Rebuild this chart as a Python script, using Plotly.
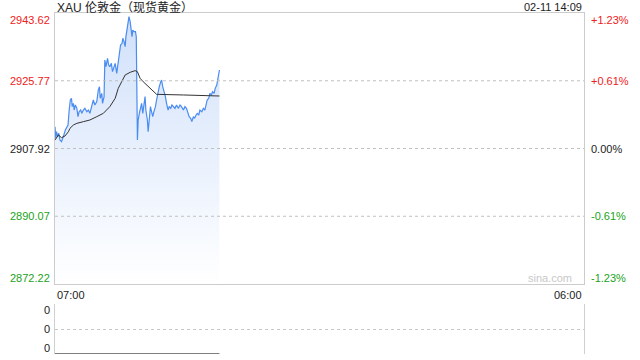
import pandas as pd
import plotly.graph_objects as go

DATE = "2025-02-11 "

# ---- price line (time, price) ----
times = ["07:00","07:02","07:04","07:07","07:10","07:13","07:17","07:20","07:23","07:27",
         "07:30","07:34","07:37","07:40","07:43","07:45","07:48","07:50","07:53","07:57",
         "08:00","08:03","08:07","08:10","08:14","08:18","08:23","08:27","08:31","08:36",
         "08:40","08:44","08:49","08:53","08:56","08:58","09:02","09:04","09:08","09:10",
         "09:13","09:17","09:20","09:23","09:27","09:30","09:34","09:37","09:41","09:44",
         "09:48","09:51","09:55","09:57","10:00","10:03","10:05","10:08","10:10","10:13",
         "10:16","10:18","10:21","10:23","10:26","10:30","10:32","10:35","10:37","10:40",
         "10:43","10:46","10:49","10:52","10:55","10:57","11:01","11:03","11:06","11:09",
         "11:11","11:15","11:18","11:22","11:25","11:29","11:32","11:36","11:38","11:41",
         "11:44","11:48","11:51","11:55","11:58","12:02","12:05","12:09","12:13","12:17",
         "12:22","12:26","12:30","12:35","12:39","12:43","12:47","12:50","12:54","12:57",
         "13:01","13:04","13:08","13:11","13:15","13:18","13:23","13:27","13:31","13:34",
         "13:37","13:41","13:44","13:48","13:51","13:55","13:58","14:02","14:04","14:07",
         "14:09"]
prices = [2913.67,2910.60,2912.35,2911.04,2911.92,2910.16,2909.72,2911.04,2911.48,2912.79,
          2913.23,2914.11,2918.06,2920.70,2921.14,2918.94,2919.82,2918.06,2919.38,2918.50,
          2916.31,2917.62,2918.06,2917.18,2918.06,2918.50,2917.62,2918.06,2917.18,2918.94,
          2920.70,2919.38,2920.26,2923.33,2924.21,2921.14,2922.45,2919.82,2921.58,2931.24,
          2929.48,2931.68,2929.92,2929.48,2930.36,2928.16,2929.48,2930.36,2927.72,2930.36,
          2933.87,2935.19,2935.63,2936.95,2936.07,2934.75,2937.38,2939.58,2940.90,2942.65,
          2941.34,2939.14,2937.38,2939.14,2938.70,2938.70,2937.38,2910.16,2915.43,2917.18,
          2918.94,2919.82,2917.18,2918.94,2921.58,2918.06,2915.43,2912.35,2916.31,2918.94,
          2918.06,2916.31,2917.62,2918.94,2920.70,2922.89,2924.21,2925.53,2925.97,2924.21,
          2923.33,2921.58,2919.82,2918.06,2918.94,2918.50,2919.38,2918.94,2918.50,2919.38,
          2918.50,2919.38,2918.94,2918.06,2918.94,2918.50,2917.18,2916.31,2915.87,2914.99,
          2916.31,2915.87,2916.75,2917.18,2916.75,2918.06,2917.62,2918.50,2918.06,2919.82,
          2920.70,2921.14,2922.45,2922.02,2922.89,2922.45,2923.77,2924.65,2925.97,2928.16,
          2928.60]

# ---- average price line ----
avg_times = ["07:00","07:09","07:17","07:26","07:35","07:39","07:48","07:57","08:14","08:31",
             "08:49","09:06","09:23","09:37","09:45","09:54","10:03","10:16","10:29","10:35",
             "10:42","10:50","11:03","11:17","11:25","12:35","14:09"]
avg_prices = [2910.16,2911.48,2910.77,2911.21,2912.35,2913.23,2914.11,2914.55,2914.99,2915.43,
              2916.31,2917.18,2918.94,2921.14,2923.77,2925.53,2927.28,2927.99,2928.43,2928.16,
              2926.41,2925.53,2924.21,2922.89,2922.19,2922.02,2921.75]

# ---- volume ----
vol_times = ["07:00", "14:09"]
volumes = [0, 0]

# ---- axis labels ----
price_ticks = [2943.62, 2925.77, 2907.92, 2890.07, 2872.22]
price_labels = ["2943.62", "2925.77", "2907.92", "2890.07", "2872.22"]
pct_labels = ["+1.23%", "+0.61%", "0.00%", "-0.61%", "-1.23%"]
label_colors = ["#f02020", "#f02020", "#222222", "#1aa31a", "#1aa31a"]
vol_ticks = [1, 0.5, 0]
vol_labels = ["0", "0", "0"]
x_start, x_end = "2025-02-11 07:00", "2025-02-12 06:00"
title_text = "XAU 伦敦金（现货黄金）"
stamp_text = "02-11 14:09"

tx = pd.to_datetime([DATE + t for t in times])
ax = pd.to_datetime([DATE + t for t in avg_times])
vx = pd.to_datetime([DATE + t for t in vol_times])

FONT = "Arial, Liberation Sans, Noto Sans CJK SC, sans-serif"

fig = go.Figure()
fig.add_trace(go.Scatter(
    x=tx, y=prices, mode="lines",
    line=dict(color="#4a8cf0", width=1.2),
    fill="tozeroy",
    fillgradient=dict(type="vertical",
                      colorscale=[[0, "rgba(255,255,255,1)"], [1, "rgba(208,224,250,1)"]],
                      start=price_ticks[-1], stop=price_ticks[0]),
    xaxis="x", yaxis="y", showlegend=False, hoverinfo="skip"))
fig.add_trace(go.Scatter(
    x=ax, y=avg_prices, mode="lines",
    line=dict(color="#333333", width=1),
    xaxis="x", yaxis="y", showlegend=False, hoverinfo="skip"))
fig.add_trace(go.Scatter(
    x=vx, y=volumes, mode="lines",
    line=dict(color="#555555", width=1.5),
    xaxis="x2", yaxis="y2", showlegend=False, hoverinfo="skip", cliponaxis=False))

top_dom = (354 - 284) / 341
vol_dom = 50 / 341

fig.update_layout(
    width=640, height=360,
    margin=dict(l=55, r=56, t=13, b=6),
    paper_bgcolor="white", plot_bgcolor="white",
    font=dict(family=FONT, size=11, color="#222"),
    xaxis=dict(domain=[0, 1], range=[x_start, x_end], showticklabels=False,
               showgrid=False, zeroline=False, showline=True, mirror=True,
               linecolor="#cccccc", linewidth=1, ticks=""),
    yaxis=dict(domain=[top_dom, 1], range=[price_ticks[-1], price_ticks[0]],
               showticklabels=False, showgrid=False, zeroline=False,
               showline=True, mirror=True, linecolor="#cccccc", linewidth=1, ticks=""),
    xaxis2=dict(domain=[0, 1], range=[x_start, x_end], anchor="y2",
                showticklabels=False, showgrid=False, zeroline=False, showline=False, ticks=""),
    yaxis2=dict(domain=[0, vol_dom], range=[0, 1], anchor="x2",
                tickvals=vol_ticks, showticklabels=False, showgrid=True,
                gridcolor="#c8c8c8", griddash="dot", gridwidth=1, zeroline=False,
                showline=True, mirror=True, linecolor="#d0d0d0", linewidth=1, ticks=""),
)

# dotted price grid lines drawn above the fill
shapes = []
for v in price_ticks[1:4]:
    shapes.append(dict(type="line", xref="paper", x0=0, x1=1, yref="y", y0=v, y1=v,
                       line=dict(color="#c0c0c0", width=1, dash="dot"), layer="above"))
fig.update_layout(shapes=shapes)

ann = []
shifts = [-7, 0, 0, 0, 6]
for v, lab, pct, col, s in zip(price_ticks, price_labels, pct_labels, label_colors, shifts):
    ann.append(dict(x=0, xref="paper", xanchor="right", xshift=-3, y=v, yref="y",
                    yshift=s, yanchor="middle", text=lab, showarrow=False,
                    font=dict(size=11, color=col)))
    ann.append(dict(x=1, xref="paper", xanchor="left", xshift=5, y=v, yref="y",
                    yshift=s, yanchor="middle", text=pct, showarrow=False,
                    font=dict(size=11, color=col)))
vshifts = [-6, 0, 6]
for v, lab, s in zip(vol_ticks, vol_labels, vshifts):
    ann.append(dict(x=0, xref="paper", xanchor="right", xshift=-3, y=v, yref="y2",
                    yshift=s, yanchor="middle", text=lab, showarrow=False,
                    font=dict(size=11, color="#222")))
ann.append(dict(x=0, xref="paper", xanchor="left", y=price_ticks[-1], yref="y",
                yanchor="top", yshift=-3, text="07:00", showarrow=False,
                font=dict(size=11, color="#222")))
ann.append(dict(x=1, xref="paper", xanchor="right", y=price_ticks[-1], yref="y",
                yanchor="top", yshift=-3, text="06:00", showarrow=False,
                font=dict(size=11, color="#222")))
ann.append(dict(x=1, xref="paper", xanchor="right", xshift=-10, y=price_ticks[-1], yref="y",
                yanchor="middle", yshift=6, text="sina.com", showarrow=False,
                font=dict(size=11, color="#c8c8c8")))
ann.append(dict(x=0, xref="paper", xanchor="left", y=1, yref="paper",
                yanchor="middle", yshift=6, text=title_text, showarrow=False,
                font=dict(size=12, color="#222")))
ann.append(dict(x=1, xref="paper", xanchor="right", y=1, yref="paper",
                yanchor="middle", yshift=6, text=stamp_text, showarrow=False,
                font=dict(size=11, color="#222")))
fig.update_layout(annotations=ann)

fig.write_html("out.html")
